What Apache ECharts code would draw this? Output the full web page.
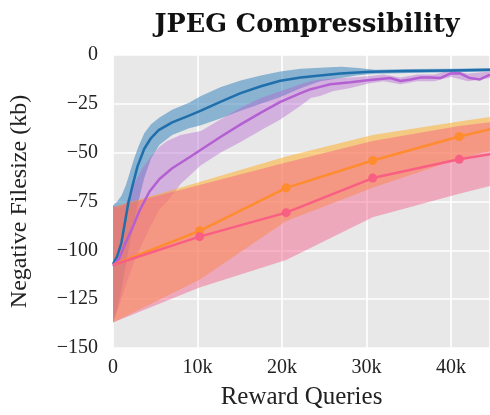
<!DOCTYPE html>
<html>
<head>
<meta charset="utf-8">
<script src="https://cdn.jsdelivr.net/npm/echarts@6/dist/echarts.min.js"></script>
<style>
  html, body { margin: 0; padding: 0; background: #fff; }
  #chart { width: 490px; height: 415px; }
</style>
</head>
<body>
<div id="chart"></div>
<script>
// x values are reward queries in thousands
const xTicks = [0, 10, 20, 30, 40];

// blue run
const blueX = [0, 0.5, 1.0, 1.4, 1.8, 2.3, 2.9, 3.7, 4.5, 5.4, 7.0, 9.0, 10.4, 12.7, 15.1, 17.5, 19.8, 22.2, 24.5, 26.9, 30.4, 35, 40, 44.6];
const blueMean = [-107, -103, -96, -86, -76, -67, -57, -48, -42.5, -38.5, -34.5, -31, -28.5, -24, -19.5, -16, -13.2, -11.5, -10.5, -9.5, -8.6, -8.2, -7.9, -7.6];
const blueBandX = [0, 0.5, 1.0, 1.5, 2.0, 2.5, 3.0, 3.7, 4.5, 5.5, 7.0, 9.0, 10.4, 12.7, 15.1, 17.5, 19.8, 22.2, 24.5, 27, 29, 31, 35, 40, 44.6];
const blueHi = [-77, -75, -72, -67, -60, -53, -47, -40, -35.5, -32, -28, -24.5, -21, -16.5, -13, -10.5, -8.5, -7, -6.5, -6, -6.6, -7.5, -7.2, -7, -6.8];
const blueLo = [-137, -130, -120, -108, -96, -85, -75, -63, -53, -46, -41, -37.5, -36, -32.5, -28.5, -25, -21.5, -17, -13.5, -11.8, -10.4, -9.6, -9.2, -8.8, -8.5];

// purple run
const purpleX = [0, 0.75, 1.5, 2.3, 3.1, 4.3, 5.5, 7.0, 9.0, 10.4, 12.7, 15.1, 17.5, 19.8, 22.2, 23.4, 24.5, 25.7, 28.1, 30.4, 32.8, 34.0, 35.2, 36.4, 37.5, 38.7, 39.9, 41.0, 42.2, 43.4, 44.6];
const purpleMean = [-108, -104, -96, -88.5, -80, -70, -63.5, -58, -52.5, -48.5, -42, -35.5, -29.5, -24, -19.5, -17.5, -16.3, -15, -14, -12.8, -11.8, -13.3, -12.5, -11.5, -11.5, -11.8, -9.5, -9.3, -11.8, -12.5, -10];
const purpleBandX = [0, 0.75, 1.5, 2.5, 3.5, 4.5, 5.5, 6.4, 8, 10.4, 12.7, 15.1, 17.5, 19.8, 22.2, 23.4, 24.5, 26, 28.1, 30.4, 32, 34, 36, 38, 40, 42, 44.6];
const purpleHi = [-77, -79, -76, -66, -58, -52, -47, -44, -41, -38.9, -33, -27, -22, -18.6, -15, -13.5, -12.5, -12, -11.5, -10.8, -10, -11.5, -10, -10, -7.8, -9.5, -8.5];
const purpleLo = [-137, -128, -118, -106, -96, -87, -79, -75, -66, -56.5, -50, -44.5, -38.5, -33, -26, -22, -21, -18.5, -16.9, -14.5, -13.5, -15, -13.5, -13.5, -11.2, -13.5, -11.8];

// orange and pink runs, evaluated every 10240 queries
const evalX = [0, 10.24, 20.48, 30.72, 40.96, 51.2];
const orangeMean = [-107.5, -90, -68, -54, -41.7, -31.3];
const orangeHi = [-78, -65, -52, -41, -34, -27.8];
const orangeLo = [-137, -115, -85, -68, -53, -42];
const pinkMean = [-107.5, -93, -80.7, -63, -53.4, -46];
const pinkHi = [-78, -66.5, -55, -44, -36.3, -31.2];
const pinkLo = [-137, -119, -105, -83, -71, -60];

const serif = 'Liberation Serif';

function pairs(xs, ys) {
  return xs.map((x, i) => [x, ys[i]]);
}

function band(xs, lo, hi, color, opacity, z) {
  return {
    type: 'custom',
    clip: true,
    silent: true,
    z: z,
    data: [[xs[0], lo[0]]],
    renderItem: function (params, api) {
      const pts = [];
      for (let i = 0; i < xs.length; i++) pts.push(api.coord([xs[i], hi[i]]));
      for (let i = xs.length - 1; i >= 0; i--) pts.push(api.coord([xs[i], lo[i]]));
      return {
        type: 'polygon',
        shape: { points: pts },
        style: { fill: color, opacity: opacity, stroke: null }
      };
    }
  };
}

function line(xs, ys, color, markers, z) {
  return {
    type: 'line',
    data: pairs(xs, ys),
    clip: true,
    z: z,
    silent: true,
    showSymbol: markers,
    symbol: 'circle',
    symbolSize: (v, p) => (p.dataIndex === 0 ? 0 : 9),
    itemStyle: { color: color },
    lineStyle: { color: color, width: 2.5 },
    animation: false
  };
}

const minus = v => (v < 0 ? '\u2212' + Math.abs(v) : String(v));

const chart = echarts.init(document.getElementById('chart'), null, { renderer: 'canvas' });

chart.setOption({
  animation: false,
  backgroundColor: '#ffffff',
  title: {
    text: 'JPEG Compressibility',
    left: 302,
    top: 7,
    textAlign: 'center',
    textStyle: { fontFamily: 'DejaVu Serif', fontWeight: 'bold', fontSize: 25.5, color: '#111' }
  },
  grid: {
    left: 112, right: 0, top: 55, bottom: 64,
    show: true, backgroundColor: '#e8e8e8', borderWidth: 0
  },
  xAxis: {
    type: 'value',
    min: 0, max: 44.6, interval: 10,
    name: 'Reward Queries',
    nameLocation: 'middle',
    nameGap: 37,
    nameTextStyle: { fontFamily: serif, fontSize: 25, color: '#222' },
    axisLine: { show: false },
    axisTick: { show: false },
    axisLabel: {
      showMaxLabel: false,
      margin: 10,
      fontFamily: serif, fontSize: 20, color: '#222',
      formatter: v => (v === 0 ? '0' : v + 'k')
    },
    splitLine: { show: true, lineStyle: { color: '#ffffff', width: 1.6 } }
  },
  yAxis: {
    type: 'value',
    min: -150, max: 0, interval: 25,
    name: 'Negative Filesize (kb)',
    nameLocation: 'middle',
    nameRotate: 90,
    nameGap: 81,
    nameTextStyle: { fontFamily: serif, fontSize: 24, color: '#222' },
    axisLine: { show: false },
    axisTick: { show: false },
    axisLabel: {
      margin: 15,
      fontFamily: serif, fontSize: 20, color: '#222',
      formatter: minus
    },
    splitLine: { show: true, lineStyle: { color: '#ffffff', width: 1.6 } }
  },
  series: [
    band(blueBandX, blueLo, blueHi, '#2b7bba', 0.5, 1),
    band(purpleBandX, purpleLo, purpleHi, '#b45fd2', 0.4, 2),
    band(evalX, orangeLo, orangeHi, '#ffa91a', 0.5, 3),
    band(evalX, pinkLo, pinkHi, '#f55a84', 0.45, 4),
    line(blueX, blueMean, '#1f6fad', false, 10),
    line(purpleX, purpleMean, '#b45fd2', false, 10),
    line(evalX, orangeMean, '#ff8c2e', true, 11),
    line(evalX, pinkMean, '#f95f83', true, 11)
  ]
});
</script>
</body>
</html>
